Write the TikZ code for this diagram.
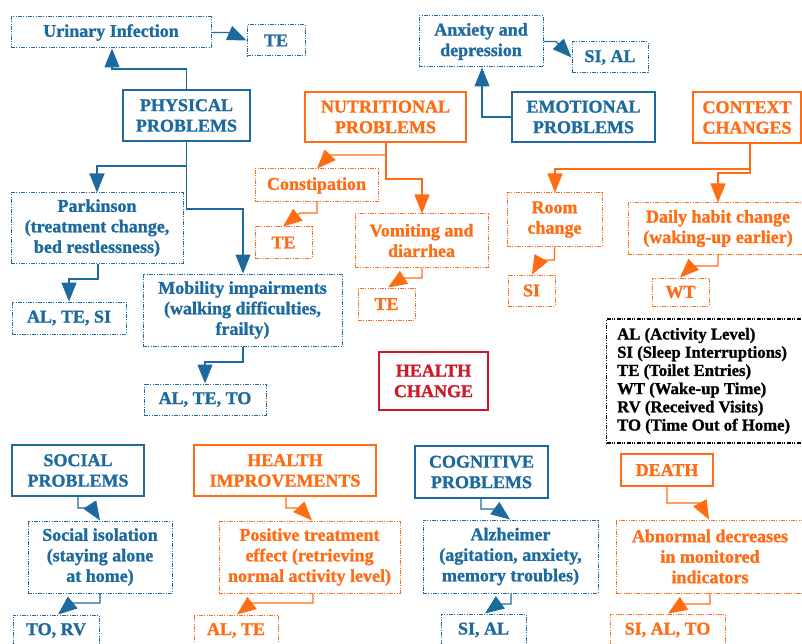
\documentclass[tikz,border=0pt]{standalone}
\usepackage{fontspec}
\setmainfont{Liberation Serif}[BoldFeatures={FakeBold=1.2}]
\usetikzlibrary{arrows.meta}
\definecolor{cblue}{RGB}{28,106,158}
\definecolor{corange}{RGB}{255,108,20}
\definecolor{cred}{RGB}{205,25,40}
\newcommand\mybox[7]{%
  \pgfmathsetmacro\myboxcx{(#3+#5)/2}%
  \pgfmathsetmacro\myboxcy{(#4+#6)/2}%
  \pgfmathsetmacro\myboxw{#5-#3}%
  \pgfmathsetmacro\myboxh{#6-#4}%
  \node[#2, minimum width=\myboxw pt, minimum height=\myboxh pt] (#1) at (\myboxcx,\myboxcy) {#7};}
\tikzset{
  txt/.style={font=\fontsize{18}{20.5}\selectfont\bfseries, align=center, inner sep=0pt},
  dotpat/.style={dash pattern=on 4pt off 1.2pt on 1.2pt off 1.2pt on 1.2pt off 1.2pt},
  catB/.style={txt, draw=cblue, text=cblue, line width=1.3pt},
  subB/.style={txt, draw=cblue, text=cblue, line width=1pt, dotpat},
  catO/.style={txt, draw=corange, text=corange, line width=1.3pt},
  subO/.style={txt, draw=corange, text=corange, line width=1pt, dotpat},
  hcbox/.style={txt, draw=cred, text=cred, line width=2.4pt},
  legbox/.style={draw=black, line width=1.3pt, dotpat, inner sep=0pt},
  legtxt/.style={font=\fontsize{16.7}{18.2}\selectfont\bfseries, align=left, inner sep=0pt, text=black},
  tip/.style={-{Triangle[length=19pt,width=15pt]}},
  barr/.style={draw=cblue, line width=1.3pt, tip},
  oarr/.style={draw=corange, line width=1.3pt, tip},
}
\begin{document}
\begin{tikzpicture}[x=1pt,y=-1pt]
\path[use as bounding box, fill=white] (0,0) rectangle (802,644);

% physical
\mybox{uri}{subB}{11}{17}{211}{48}{Urinary Infection}
\mybox{te1}{subB}{247}{25}{305}{56}{TE}
\mybox{phys}{catB}{123}{90}{250}{141}{PHYSICAL\\PROBLEMS}
\mybox{park}{subB}{11}{193}{183}{263}{Parkinson\\(treatment change,\\bed restlessness)}
\mybox{alts}{subB}{12}{302}{126}{334}{AL, TE, SI}
\mybox{mob}{subB}{143}{274}{342}{346}{Mobility impairments\\(walking difficulties,\\frailty)}
\mybox{alto}{subB}{144}{384}{266}{415}{AL, TE, TO}
% nutritional
\mybox{nutr}{catO}{305}{92}{466}{142}{NUTRITIONAL\\PROBLEMS}
\mybox{const}{subO}{255}{169}{378}{202}{Constipation}
\mybox{te2}{subO}{255}{227}{312}{258}{TE}
\mybox{vom}{subO}{355}{214}{488}{267}{Vomiting and\\diarrhea}
\mybox{te3}{subO}{358}{288}{415}{320}{TE}
% emotional
\mybox{anx}{subB}{419}{16}{543}{67}{Anxiety and\\depression}
\mybox{sial1}{subB}{572}{42}{648}{73}{SI, AL}
\mybox{emo}{catB}{512}{92}{655}{142}{EMOTIONAL\\PROBLEMS}
% context
\mybox{ctx}{catO}{693}{92}{801}{143}{CONTEXT\\CHANGES}
\mybox{room}{subO}{507}{193}{602}{246}{Room\\change}
\mybox{si}{subO}{508}{275}{555}{306}{SI}
\mybox{daily}{subO}{628}{203}{808}{254}{Daily habit change\\(waking-up earlier)}
\mybox{wt}{subO}{652}{278}{709}{306}{WT}
% legend
\node[legbox, anchor=west, minimum width=210pt, minimum height=124pt] (legend) at (606,381) {};
\node[legtxt, anchor=west] (legtext) at (617,381) {AL (Activity Level)\\SI (Sleep Interruptions)\\TE (Toilet Entries)\\WT (Wake-up Time)\\RV (Received Visits)\\TO (Time Out of Home)};
% centre
\mybox{hc}{hcbox}{379}{352}{488}{410}{HEALTH\\CHANGE}
% social
\mybox{soc}{catB}{12}{445}{144}{496}{SOCIAL\\PROBLEMS}
\mybox{iso}{subB}{28}{521}{172}{593}{Social isolation\\(staying alone\\at home)}
\mybox{torv}{subB}{13}{615}{99}{646}{TO, RV}
% improvements
\mybox{hi}{catO}{194}{445}{376}{496}{HEALTH\\IMPROVEMENTS}
\mybox{pos}{subO}{219}{521}{400}{593}{Positive treatment\\effect (retrieving\\normal activity level)}
\mybox{alte}{subO}{194}{615}{278}{646}{AL, TE}
% cognitive
\mybox{cog}{catB}{415}{446}{548}{498}{COGNITIVE\\PROBLEMS}
\mybox{alz}{subB}{423}{520}{598}{593}{Alzheimer\\(agitation, anxiety,\\memory troubles)}
\mybox{sial2}{subB}{441}{614}{526}{646}{SI, AL}
% death
\mybox{death}{catO}{621}{454}{713}{486}{DEATH}
\mybox{abn}{subO}{616}{520}{804}{593}{Abnormal decreases\\in monitored\\indicators}
\mybox{sialto}{subO}{610}{614}{725}{646}{SI, AL, TO}

% connectors
\draw[barr] (phys.north) |- (112,69) -- (112,0 |- uri.south);
\draw[barr] (uri.east) -- (228,32.5) -- (te1.west);
\draw[barr] (phys.south) |- (97,166) -- (97,0 |- park.north);
\draw[barr] (phys.south) |- (243,209) -- (243,0 |- mob.north);
\draw[barr] (98,0 |- park.south) |- (69,279) -- (69,0 |- alts.north);
\draw[barr] (243,0 |- mob.south) |- (205,362) -- (205,0 |- alto.north);

\draw[oarr] (386,0 |- nutr.south) |- (330,155) -- (317,0 |- const.north);
\draw[oarr] (386,0 |- nutr.south) |- (422,179) -- (422,0 |- vom.north);
\draw[oarr] (317,0 |- const.south) |- (300,213) -- (283,0 |- te2.north);
\draw[oarr] (422,0 |- vom.south) |- (403,278) -- (388,0 |- te3.north);

\draw[barr] (emo.west) -| (482,0 |- anx.south);
\draw[barr] (anx.east) -- (556,41.5) -- (sial1.west);

\draw[oarr] (750,0 |- ctx.south) |- (555,169) -- (555,0 |- room.north);
\draw[oarr] (750,0 |- ctx.south) |- (718,173) -- (718,0 |- daily.north);
\draw[oarr] (room.south) |- (540,260) -- (532,0 |- si.north);
\draw[oarr] (718,0 |- daily.south) |- (692,266) -- (680,0 |- wt.north);

\draw[barr] (78,0 |- soc.south) |- (92,508) -- (100,0 |- iso.north);
\draw[barr] (iso.south) |- (72,603) -- (58,0 |- torv.north);
\draw[oarr] (286,0 |- hi.south) |- (300,508) -- (312,0 |- pos.north);
\draw[oarr] (313,0 |- pos.south) |- (252,603) -- (237,0 |- alte.north);
\draw[barr] (481,0 |- cog.south) |- (496,509) -- (510,0 |- alz.north);
\draw[barr] (511,0 |- alz.south) |- (498,604) -- (485,0 |- sial2.north);
\draw[oarr] (667,0 |- death.south) |- (700,503) -- (709,0 |- abn.north);
\draw[oarr] (710,0 |- abn.south) |- (683,604) -- (668,0 |- sialto.north);
\end{tikzpicture}
\end{document}
